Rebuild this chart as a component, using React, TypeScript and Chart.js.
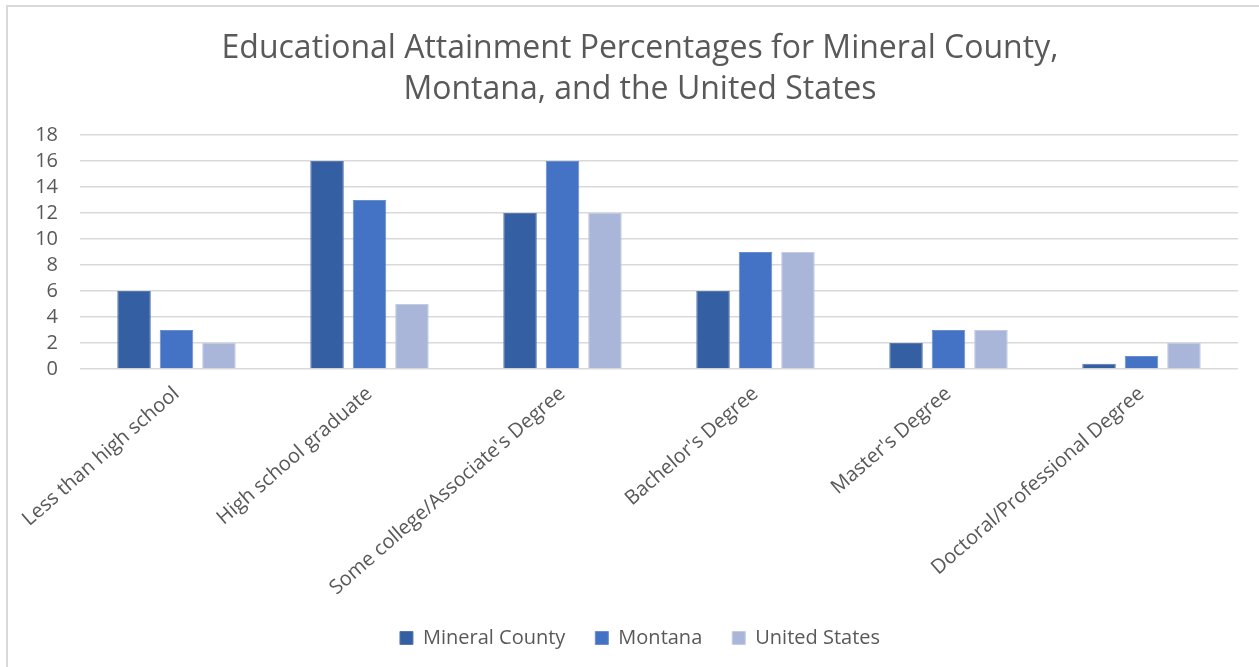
import React, { useEffect, useRef } from "react";
import { Chart, registerables } from "chart.js";

Chart.register(...registerables);

const categories = [
  "Less than high school",
  "High school graduate",
  "Some college/Associate's Degree",
  "Bachelor's Degree",
  "Master's Degree",
  "Doctoral/Professional Degree",
];
const mineralCounty = [6, 16, 12, 6, 2, 0.4];
const montana = [3, 13, 16, 9, 3, 1];
const unitedStates = [2, 5, 12, 9, 3, 2];
const titleLines = [
  "Educational Attainment Percentages for Mineral County,",
  "Montana, and the United States",
];

const FONT = "'Open Sans', 'Noto Sans', sans-serif";
const TEXT = "#595959";

const noLabelClip = (scale: any) => {
  scale._computeLabelArea = () => undefined;
};

export default function App() {
  const ref = useRef<HTMLCanvasElement | null>(null);

  useEffect(() => {
    if (!ref.current) return;
    const chart = new Chart(ref.current, {
      type: "bar",
      data: {
        labels: categories,
        datasets: [
          {
            label: "Mineral County",
            data: mineralCounty,
            backgroundColor: "#355FA3",
            borderColor: "#5878B0",
            borderWidth: 1,
          },
          {
            label: "Montana",
            data: montana,
            backgroundColor: "#4472C4",
            borderColor: "#6A8DCF",
            borderWidth: 1,
          },
          {
            label: "United States",
            data: unitedStates,
            backgroundColor: "#A9B6DA",
            borderColor: "#C3CCE5",
            borderWidth: 1,
          },
        ],
      },
      options: {
        responsive: false,
        animation: false,
        layout: { padding: { left: 42, right: 21, top: 0, bottom: 9 } },
        datasets: {
          bar: { categoryPercentage: 0.66, barPercentage: 0.79 },
        },
        plugins: {
          title: {
            display: true,
            text: titleLines,
            color: TEXT,
            font: { family: FONT, size: 32, weight: "normal", lineHeight: 1.28 },
            padding: { top: 28, bottom: 25 },
          },
          legend: {
            display: true,
            position: "bottom",
            labels: {
              color: TEXT,
              font: { family: FONT, size: 20 },
              boxWidth: 13,
              boxHeight: 13,
              padding: 30,
            },
          },
          tooltip: { enabled: false },
        },
        scales: {
          x: {
            grid: { display: false },
            border: { display: false },
            ticks: {
              color: TEXT,
              font: { family: FONT, size: 20 },
              minRotation: 41,
              maxRotation: 41,
              autoSkip: false,
              padding: 5,
            },
            afterFit: (scale: any) => {
              scale.height = 229;
            },
            afterUpdate: noLabelClip,
          },
          y: {
            min: 0,
            max: 18,
            grid: { color: "#D9D9D9", lineWidth: 1.5, drawTicks: false },
            border: { display: false },
            ticks: {
              stepSize: 2,
              autoSkip: false,
              color: TEXT,
              font: { family: FONT, size: 20 },
              padding: 22,
            },
            afterFit: (scale: any) => {
              scale.width = 38;
            },
            afterUpdate: noLabelClip,
          },
        },
      },
    });
    return () => chart.destroy();
  }, []);

  return (
    <div
      style={{
        position: "fixed",
        left: 0,
        top: 0,
        width: 1259,
        height: 667,
        background: "#FFFFFF",
        overflow: "hidden",
      }}
    >
      <div
        style={{
          position: "absolute",
          left: 6,
          top: 5,
          width: 1400,
          height: 800,
          borderLeft: "2px solid #D9D9D9",
          borderTop: "2px solid #D9D9D9",
        }}
      />
      <canvas
        ref={ref}
        width={1259}
        height={667}
        style={{ position: "absolute", left: 0, top: 0 }}
      />
    </div>
  );
}
